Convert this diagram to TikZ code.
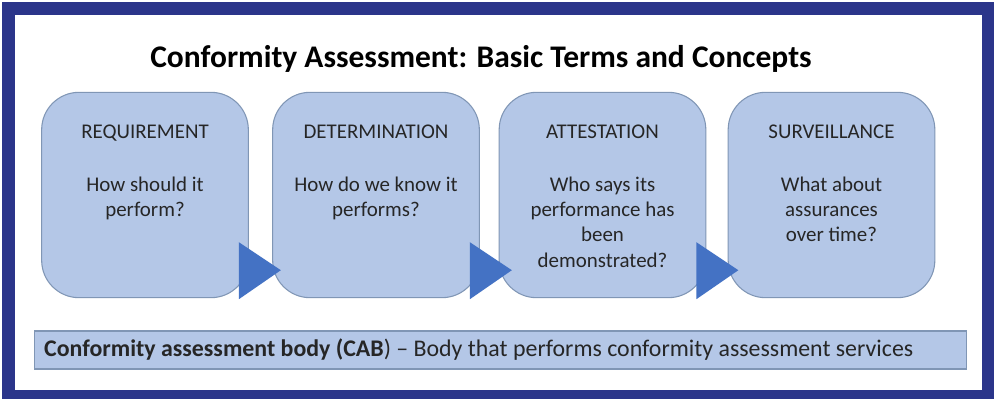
\documentclass[tikz,border=0pt]{standalone}
\usepackage{fontspec}
\setmainfont{Carlito}
\usetikzlibrary{calc}
\definecolor{navy}{HTML}{2B358A}
\definecolor{boxfill}{HTML}{B4C7E7}
\definecolor{boxline}{HTML}{8096B5}
\definecolor{tri}{HTML}{4472C4}
\definecolor{txt}{HTML}{262626}
\tikzset{
  stagebox/.style={draw=boxline, line width=0.8pt, fill=boxfill, rounded corners=28pt,
    minimum width=155pt, minimum height=154pt, inner sep=0pt},
  stagetext/.style={anchor=north, align=center, text=txt, inner sep=0pt,
    font=\fontsize{15.7}{19}\selectfont},
  arrowtri/.style={fill=tri, draw=none},
  barbox/.style={draw=boxline, line width=0.8pt, fill=boxfill, inner sep=0pt,
    minimum width=699pt, minimum height=28.5pt},
}
\begin{document}
\begin{tikzpicture}[x=0.75pt, y=-0.75pt]
\useasboundingbox (0,0) rectangle (994,399);
\fill[navy] (2,2) rectangle (994,399);
\fill[white] (15,15) rectangle (982,390);
\node[font=\bfseries\fontsize{23.6}{28}\selectfont, text=black] (title) at (481,59) {Conformity Assessment: Basic Terms and Concepts};
\node[stagebox] (r1) at (145,195) {};
\node[stagebox] (r2) at (376,195) {};
\node[stagebox] (r3) at (602.5,195) {};
\node[stagebox] (r4) at (831.5,195) {};
\node[stagetext] (t1) at ($(r1.north)+(0,33)$) {REQUIREMENT\\[20.5pt]How should it\\perform?};
\node[stagetext] (t2) at ($(r2.north)+(0,33)$) {DETERMINATION\\[20.5pt]How do we know it\\performs?};
\node[stagetext] (t3) at ($(r3.north)+(0,33)$) {ATTESTATION\\[20.5pt]Who says its\\performance has\\been\\demonstrated?};
\node[stagetext] (t4) at ($(r4.north)+(0,33)$) {SURVEILLANCE\\[20.5pt]What about\\assurances\\over time?};
\foreach \a in {r1,r2,r3}{
  \fill[arrowtri] ($(\a.south east)+(-10,1)$) -- ($(\a.south east)+(-10,-56)$) -- ($(\a.south east)+(32,-28)$) -- cycle;
}
\node[barbox] (bar) at (500.5,350) {};
\node[anchor=west, text=txt, inner sep=0pt, font=\fontsize{17.9}{21}\selectfont] (bartext) at ($(bar.west)+(10,0)$) {\textbf{Conformity assessment body (CAB}) – Body that performs conformity assessment services};
\end{tikzpicture}
\end{document}
